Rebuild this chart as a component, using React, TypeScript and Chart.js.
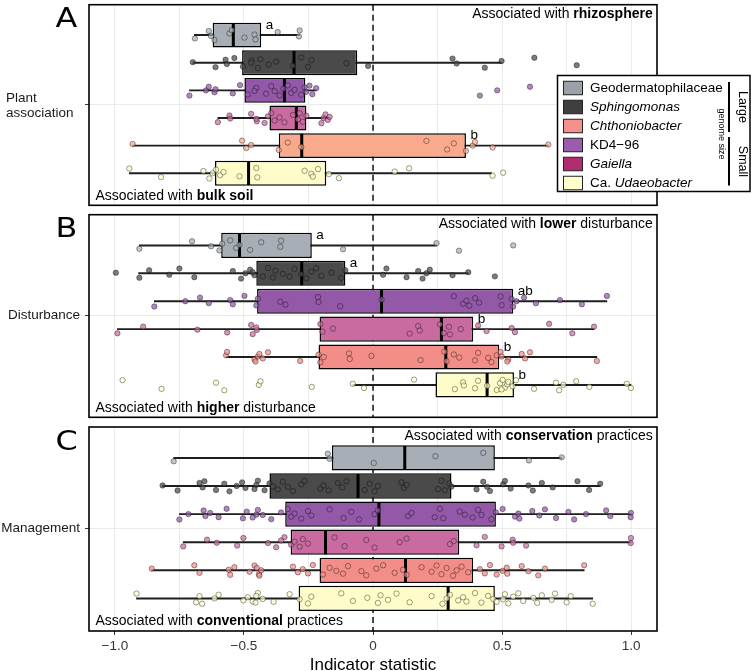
import React, { useEffect, useRef } from 'react';
import { Chart, registerables } from 'chart.js';

Chart.register(...registerables);

const FAMILY = "'Liberation Sans', Arial, Helvetica, sans-serif";
const LETTER_FAMILY = "'DejaVu Sans', 'Liberation Sans', sans-serif";

// ---------- data ----------
// rows, top to bottom
const ROWS = ['Geodermatophilaceae', 'Sphingomonas', 'KD4−96', 'Gaiella', 'Chthoniobacter', 'Ca. Udaeobacter'];

const X_TICKS = [-1, -0.75, -0.5, -0.25, 0, 0.25, 0.5, 0.75, 1];
const X_TICK_LABELS = ['−1.0', '', '−0.5', '', '0', '', '0.5', '', '1.0'];
const X_TITLE = 'Indicator statistic';

// [lower whisker, q1, median, q3, upper whisker]
const STATS_A = [
  [-0.692, -0.621, -0.541, -0.433, -0.284],
  [-0.698, -0.507, -0.306, -0.061, 0.498],
  [-0.711, -0.498, -0.343, -0.262, -0.22],
  [-0.601, -0.401, -0.297, -0.258, -0.168],
  [-0.931, -0.365, -0.276, 0.36, 0.679],
  [-0.944, -0.612, -0.482, -0.181, 0.459],
];
const STATS_B = [
  [-0.905, -0.588, -0.517, -0.237, 0.246],
  [-0.908, -0.452, -0.276, -0.107, 0.369],
  [-0.847, -0.449, 0.033, 0.543, 0.906],
  [-0.99, -0.207, 0.265, 0.388, 0.856],
  [-0.569, -0.211, 0.282, 0.489, 0.867],
  [-0.078, 0.242, 0.442, 0.546, 0.999],
];
const STATS_C = [
  [-0.772, -0.159, 0.123, 0.472, 0.731],
  [-0.815, -0.401, -0.058, 0.304, 0.88],
  [-0.75, -0.34, 0.023, 0.476, 0.999],
  [-0.735, -0.319, -0.184, 0.334, 0.999],
  [-0.857, -0.207, 0.126, 0.388, 0.818],
  [-0.916, -0.288, 0.291, 0.472, 0.851],
];

const POINTS_A = [
  [-0.69, -0.636, -0.627, -0.614, -0.556, -0.547, -0.498, -0.459, -0.455, -0.369, -0.287, -0.284],
  [-0.698, -0.61, -0.571, -0.566, -0.537, -0.504, -0.47, -0.446, -0.472, -0.436, -0.404, -0.375, -0.31, -0.278, -0.252, -0.239, -0.103, -0.019, 0.308, 0.324, 0.433, 0.498, 0.625, 0.789],
  [-0.711, -0.647, -0.636, -0.614, -0.61, -0.543, -0.515, -0.485, -0.452, -0.459, -0.414, -0.394, -0.381, -0.362, -0.347, -0.33, -0.317, -0.304, -0.278, -0.265, -0.259, -0.246, -0.235, -0.22, 0.414, 0.481, 0.608],
  [-0.601, -0.556, -0.553, -0.45, -0.472, -0.452, -0.42, -0.407, -0.394, -0.381, -0.362, -0.343, -0.31, -0.291, -0.284, -0.272, -0.258, -0.2, -0.191, -0.184, -0.175, -0.168],
  [-0.931, -0.507, -0.491, -0.472, -0.365, -0.33, -0.278, 0.207, 0.287, 0.313, 0.36, 0.386, 0.395, 0.463, 0.679],
  [-0.944, -0.821, -0.657, -0.634, -0.621, -0.608, -0.592, -0.579, -0.517, -0.452, -0.448, -0.265, -0.239, -0.233, -0.213, -0.171, -0.132, 0.084, 0.14, 0.463, 0.504],
];
const POINTS_B = [
  [-0.905, -0.701, -0.627, -0.595, -0.584, -0.553, -0.53, -0.517, -0.476, -0.433, -0.359, -0.356, -0.116, 0.246, 0.333, 0.543],
  [-0.996, -0.905, -0.867, -0.789, -0.75, -0.692, -0.543, -0.511, -0.494, -0.476, -0.459, -0.466, -0.427, -0.407, -0.388, -0.378, -0.349, -0.323, -0.304, -0.278, -0.258, -0.239, -0.22, -0.2, -0.161, -0.123, -0.107, 0.039, 0.052, 0.13, 0.175, 0.192, 0.207, 0.22, 0.308, 0.369, 0.472],
  [-0.847, -0.727, -0.67, -0.636, -0.553, -0.543, -0.498, -0.452, -0.446, -0.359, -0.339, -0.213, -0.211, -0.127, 0.033, 0.313, 0.349, 0.362, 0.373, 0.395, 0.411, 0.494, 0.498, 0.537, 0.543, 0.556, 0.585, 0.631, 0.724, 0.809, 0.906],
  [-0.99, -0.89, -0.68, -0.565, -0.472, -0.45, -0.466, -0.452, -0.204, -0.196, -0.155, 0.142, 0.175, 0.181, 0.259, 0.274, 0.294, 0.298, 0.34, 0.407, 0.44, 0.537, 0.55, 0.682, 0.772, 0.856],
  [-0.569, -0.565, -0.459, -0.446, -0.455, -0.44, -0.427, -0.407, -0.282, -0.211, -0.204, -0.191, -0.093, -0.09, -0.006, 0.184, 0.276, 0.285, 0.313, 0.334, 0.395, 0.407, 0.446, 0.459, 0.479, 0.494, 0.524, 0.498, 0.52, 0.576, 0.589, 0.608, 0.867],
  [-0.97, -0.819, -0.608, -0.576, -0.442, -0.436, -0.237, -0.078, -0.035, 0.159, 0.317, 0.349, 0.352, 0.395, 0.407, 0.442, 0.479, 0.492, 0.502, 0.511, 0.52, 0.498, 0.524, 0.541, 0.554, 0.624, 0.709, 0.721, 0.737, 0.787, 0.838, 0.983, 0.999],
];
const POINTS_C = [
  [-0.772, -0.175, -0.168, 0.003, 0.242, 0.427, 0.604, 0.731],
  [-0.815, -0.757, -0.672, -0.66, -0.653, -0.608, -0.576, -0.556, -0.528, -0.507, -0.494, -0.452, -0.459, -0.446, -0.42, -0.401, -0.388, -0.369, -0.349, -0.33, -0.31, -0.278, -0.265, -0.204, -0.191, -0.172, -0.136, -0.119, -0.103, -0.032, -0.013, 0.006, 0.019, 0.11, 0.119, 0.13, 0.252, 0.265, 0.278, 0.295, 0.304, 0.401, 0.427, 0.442, 0.453, 0.504, 0.511, 0.533, 0.602, 0.619, 0.654, 0.696, 0.792, 0.837, 0.88],
  [-0.75, -0.715, -0.656, -0.649, -0.631, -0.598, -0.567, -0.504, -0.489, -0.452, -0.466, -0.446, -0.427, -0.394, -0.356, -0.33, -0.317, -0.304, -0.278, -0.252, -0.239, -0.168, -0.114, -0.084, -0.054, 0.006, 0.019, 0.136, 0.149, 0.239, 0.259, 0.272, 0.336, 0.356, 0.386, 0.407, 0.42, 0.459, 0.476, 0.502, 0.55, 0.563, 0.567, 0.617, 0.644, 0.666, 0.709, 0.757, 0.779, 0.825, 0.903, 0.919, 0.999, 0.998],
  [-0.735, -0.643, -0.605, -0.526, -0.502, -0.407, -0.375, -0.356, -0.343, -0.317, -0.304, -0.284, -0.272, -0.252, -0.149, -0.11, -0.026, 0.006, 0.103, 0.13, 0.298, 0.313, 0.401, 0.433, 0.498, 0.541, 0.543, 0.593, 0.999, 0.998],
  [-0.857, -0.692, -0.672, -0.559, -0.553, -0.537, -0.478, -0.459, -0.442, -0.45, -0.44, -0.433, -0.31, -0.291, -0.272, -0.252, -0.233, -0.194, -0.168, -0.142, -0.116, -0.097, -0.045, -0.026, 0.013, 0.039, 0.084, 0.116, 0.13, 0.188, 0.227, 0.246, 0.265, 0.285, 0.31, 0.324, 0.343, 0.369, 0.414, 0.433, 0.453, 0.479, 0.518, 0.502, 0.52, 0.576, 0.602, 0.64, 0.666, 0.818],
  [-0.916, -0.685, -0.672, -0.662, -0.614, -0.598, -0.502, -0.485, -0.466, -0.446, -0.455, -0.452, -0.427, -0.385, -0.323, -0.284, -0.252, -0.239, -0.123, -0.078, -0.022, 0.019, 0.029, 0.058, 0.091, 0.142, 0.227, 0.269, 0.285, 0.298, 0.33, 0.349, 0.362, 0.395, 0.42, 0.446, 0.466, 0.479, 0.511, 0.504, 0.524, 0.543, 0.563, 0.582, 0.621, 0.636, 0.654, 0.692, 0.705, 0.75, 0.766, 0.851],
];

// vertical jitter offsets (row units) for the dots
const JITTER = [0.12, -0.15, 0.03, 0.18, -0.06, -0.18, 0.09, -0.02, 0.16, -0.11, 0.05, -0.17, 0.14, -0.08, 0.19, 0.0, -0.13, 0.07, -0.04, 0.11, -0.19, 0.15, -0.09, 0.02];

const SIG_A = ['a', '', '', '', 'b', ''];
const SIG_B = ['a', 'a', 'ab', 'b', 'b', 'b'];
const SIG_C = ['', '', '', '', '', ''];

const Y_LABEL_A = ['Plant', 'association'];
const Y_LABEL_B = 'Disturbance';
const Y_LABEL_C = 'Management';

type Seg = { t: string; b?: boolean; i?: boolean };
const NOTE_A_TOP: Seg[] = [{ t: 'Associated with ' }, { t: 'rhizosphere', b: true }];
const NOTE_A_BOT: Seg[] = [{ t: 'Associated with ' }, { t: 'bulk soil', b: true }];
const NOTE_B_TOP: Seg[] = [{ t: 'Associated with ' }, { t: 'lower', b: true }, { t: ' disturbance' }];
const NOTE_B_BOT: Seg[] = [{ t: 'Associated with ' }, { t: 'higher', b: true }, { t: ' disturbance' }];
const NOTE_C_TOP: Seg[] = [{ t: 'Associated with ' }, { t: 'conservation', b: true }, { t: ' practices' }];
const NOTE_C_BOT: Seg[] = [{ t: 'Associated with ' }, { t: 'conventional', b: true }, { t: ' practices' }];

const LEGEND_LABELS: Seg[][] = [
  [{ t: 'Geodermatophilaceae' }],
  [{ t: 'Sphingomonas', i: true }],
  [{ t: 'Chthoniobacter', i: true }],
  [{ t: 'KD4−96' }],
  [{ t: 'Gaiella', i: true }],
  [{ t: 'Ca. ' }, { t: 'Udaeobacter', i: true }],
];
const LEGEND_GROUPS = ['Large', 'Small'];
const LEGEND_GROUP_TITLE = 'genome size';

// ---------- styles ----------
const LEGEND_COLORS = ['#9AA1A9', '#3F3F41', '#F4918A', '#9B5BAE', '#B12D6F', '#FFFDCC'];
const BOX_COLORS_A = ['#A8AEB5', '#4A4A4B', '#9359A8', '#C96BA0', '#F9A98C', '#FEFDC9'];
const BOX_COLORS_BC = ['#A8AEB5', '#4A4A4B', '#9359A8', '#C96BA0', '#F38D88', '#FEFDC9'];

const Y_MIN = -1.1;
const Y_MAX = 6.16;

function rgba(hex: string, a: number) {
  const h = hex.replace('#', '');
  const r = parseInt(h.slice(0, 2), 16);
  const g = parseInt(h.slice(2, 4), 16);
  const b = parseInt(h.slice(4, 6), 16);
  return `rgba(${r},${g},${b},${a})`;
}

function drawRich(ctx: CanvasRenderingContext2D, segs: Seg[], x: number, y: number, align: 'left' | 'right', size: number) {
  const fontOf = (s: Seg) => `${s.i ? 'italic ' : ''}${s.b ? 'bold ' : ''}${size}px ${FAMILY}`;
  let total = 0;
  const ws = segs.map((s) => {
    ctx.font = fontOf(s);
    const w = ctx.measureText(s.t).width;
    total += w;
    return w;
  });
  let cx = align === 'right' ? x - total : x;
  ctx.textAlign = 'left';
  ctx.textBaseline = 'middle';
  ctx.fillStyle = '#000';
  segs.forEach((s, k) => {
    ctx.font = fontOf(s);
    ctx.fillText(s.t, cx, y);
    cx += ws[k];
  });
}

function drawLegend(ctx: CanvasRenderingContext2D) {
  const L = { x: 557.5, y: 75.5, w: 192.5, h: 116 };
  ctx.save();
  ctx.fillStyle = '#fff';
  ctx.fillRect(L.x, L.y, L.w, L.h);
  ctx.strokeStyle = '#000';
  ctx.lineWidth = 1.5;
  ctx.strokeRect(L.x, L.y, L.w, L.h);
  LEGEND_LABELS.forEach((segs, i) => {
    const cy = 88 + i * 19;
    ctx.fillStyle = LEGEND_COLORS[i];
    ctx.fillRect(563.5, cy - 6.75, 19, 13.5);
    ctx.strokeStyle = '#222';
    ctx.lineWidth = 1;
    ctx.strokeRect(563.5, cy - 6.75, 19, 13.5);
    drawRich(ctx, segs, 590, cy, 'left', 13.5);
  });
  ctx.strokeStyle = '#000';
  ctx.lineWidth = 2;
  ctx.beginPath();
  ctx.moveTo(729, 82);
  ctx.lineTo(729, 132);
  ctx.moveTo(729, 137);
  ctx.lineTo(729, 185.5);
  ctx.stroke();
  const rot = (text: string, x: number, y: number, size: number) => {
    ctx.save();
    ctx.translate(x, y);
    ctx.rotate(Math.PI / 2);
    ctx.font = `${size}px ${FAMILY}`;
    ctx.fillStyle = '#000';
    ctx.textAlign = 'center';
    ctx.textBaseline = 'middle';
    ctx.fillText(text, 0, 0);
    ctx.restore();
  };
  rot(LEGEND_GROUPS[0], 742.5, 107, 12.5);
  rot(LEGEND_GROUPS[1], 742.5, 161.5, 12.5);
  rot(LEGEND_GROUP_TITLE, 721.5, 134, 9);
  ctx.restore();
}

type PanelProps = {
  letter: string;
  yLabel: string | string[];
  stats: number[][];
  points: number[][];
  sig: string[];
  topNote: Seg[];
  bottomNote: Seg[];
  boxColors: string[];
  showX: boolean;
  legend: boolean;
  top: number;
  height: number;
  padTop: number;
  padBottom: number;
  far: boolean;
  labelOffset: number;
};

function Panel(p: PanelProps) {
  const ref = useRef<HTMLCanvasElement>(null);
  useEffect(() => {
    const halfBox = (chart: any) => {
      const y = chart.scales.y;
      return Math.abs(y.getPixelForValue(0.45) - y.getPixelForValue(0)) - 0.6;
    };
    const datasets: any[] = [];
    datasets.push({
      type: 'line',
      data: [{ x: 0, y: Y_MIN }, { x: 0, y: Y_MAX }],
      borderColor: '#000',
      borderWidth: 1.4,
      borderDash: [6, 4],
      pointRadius: 0,
      order: 5,
    });
    datasets.push({
      type: 'bar',
      indexAxis: 'y',
      grouped: false,
      data: p.stats.map((s, i) => ({ x: [s[0], s[4]], y: i })),
      backgroundColor: '#1e1e1e',
      borderWidth: 0,
      barThickness: 1.3,
      order: 4,
    });
    datasets.push({
      type: 'bar',
      indexAxis: 'y',
      grouped: false,
      data: p.stats.map((s, i) => ({ x: [s[1], s[3]], y: i })),
      backgroundColor: p.boxColors,
      borderColor: '#000',
      borderWidth: 1.5,
      borderSkipped: false,
      categoryPercentage: 1,
      barPercentage: 0.9,
      order: 3,
    });
    datasets.push({
      type: 'scatter',
      data: p.stats.map((s, i) => ({ x: s[2], y: i })),
      pointStyle: 'line',
      pointRotation: 90,
      pointRadius: (ctx: any) => halfBox(ctx.chart),
      pointBorderColor: '#000',
      pointBorderWidth: 3,
      order: 2,
    });
    p.points.forEach((row, i) => {
      datasets.push({
        type: 'scatter',
        data: row.map((v, j) => ({ x: v, y: i + JITTER[(j + i * 7) % JITTER.length] })),
        pointRadius: 2.7,
        pointBackgroundColor: rgba(p.boxColors[i], 0.72),
        pointBorderColor: 'rgba(0,0,0,0.55)',
        pointBorderWidth: 0.7,
        order: 1,
      });
    });

    const decor: any = {
      id: 'decor',
      afterDatasetsDraw(chart: any) {
        const { ctx, chartArea: a, scales } = chart;
        ctx.save();
        drawRich(ctx, p.topNote, a.right - 4.3, a.top + 9.5, 'right', 14);
        drawRich(ctx, p.bottomNote, a.left + 6.5, a.bottom - 9.5, 'left', 14);
        ctx.font = `13.5px ${FAMILY}`;
        ctx.fillStyle = '#000';
        ctx.textAlign = 'left';
        ctx.textBaseline = 'middle';
        p.sig.forEach((s, i) => {
          if (!s) return;
          ctx.fillText(s, scales.x.getPixelForValue(p.stats[i][3]) + 4.5, scales.y.getPixelForValue(i - 0.36));
        });
        ctx.restore();
      },
      afterDraw(chart: any) {
        const { ctx, chartArea: a } = chart;
        ctx.save();
        ctx.strokeStyle = '#000';
        ctx.lineWidth = 1.6;
        ctx.strokeRect(a.left, a.top, a.right - a.left, a.bottom - a.top);
        ctx.translate(66.5, a.top + 15.5);
        ctx.scale(1.18, 1);
        ctx.font = `27px ${LETTER_FAMILY}`;
        ctx.fillStyle = '#000';
        ctx.textAlign = 'center';
        ctx.textBaseline = 'middle';
        ctx.fillText(p.letter, 0, 0);
        ctx.restore();
        if (p.legend) drawLegend(ctx);
      },
    };

    const zeroPad = (s: any) => {
      s.paddingTop = 0;
      s.paddingBottom = 0;
      s.paddingLeft = 0;
      s.paddingRight = 0;
    };

    const chart = new Chart(ref.current as HTMLCanvasElement, {
      type: 'scatter',
      data: { datasets },
      options: {
        animation: false,
        responsive: false,
        events: [],
        layout: { padding: { left: p.far ? 6 : 0, right: 94, top: p.padTop, bottom: p.padBottom } },
        plugins: { legend: { display: false }, tooltip: { enabled: false } },
        scales: {
          x: {
            type: 'linear',
            min: -1.1,
            max: 1.1,
            offset: false,
            afterBuildTicks: (s: any) => {
              s.ticks = X_TICKS.map((v) => ({ value: v }));
            },
            afterFit: (s: any) => {
              s.height = p.showX ? 40 : 0;
              zeroPad(s);
            },
            grid: {
              color: '#EBEBEB',
              lineWidth: 1,
              offset: false,
              drawTicks: p.showX,
              tickLength: 4,
              tickColor: (ctx: any) => (X_TICK_LABELS[ctx.index] ? '#333' : 'rgba(0,0,0,0)'),
            },
            border: { display: false },
            ticks: {
              display: p.showX,
              autoSkip: false,
              maxRotation: 0,
              padding: 3.5,
              color: '#333',
              font: { size: 13.5, family: FAMILY },
              callback: (_v: any, i: number) => X_TICK_LABELS[i],
            },
            title: {
              display: p.showX,
              text: X_TITLE,
              color: '#000',
              font: { size: 17, family: FAMILY },
              padding: { top: 0, bottom: -4.6 },
            },
          },
          y: {
            type: 'linear',
            min: Y_MIN,
            max: Y_MAX,
            reverse: true,
            offset: false,
            afterBuildTicks: (s: any) => {
              s.ticks = [{ value: 2.5 }];
            },
            afterFit: (s: any) => {
              s.width = p.far ? 83 : 89;
              zeroPad(s);
            },
            grid: { color: '#EBEBEB', lineWidth: 1, offset: false, tickLength: 4, tickColor: '#333' },
            border: { display: false },
            ticks: {
              autoSkip: false,
              padding: 5,
              color: '#1a1a1a',
              crossAlign: p.far ? 'far' : 'near',
              labelOffset: p.labelOffset,
              font: { size: 13.5, family: FAMILY, lineHeight: 1.1 },
              callback: () => p.yLabel,
            },
          },
        },
      } as any,
      plugins: [decor],
    });
    return () => chart.destroy();
  }, []);
  return (
    <canvas
      ref={ref}
      width={751}
      height={p.height}
      style={{ position: 'absolute', left: 0, top: p.top, width: 751, height: p.height, display: 'block' }}
    />
  );
}

export default function App() {
  return (
    <div style={{ position: 'absolute', left: 0, top: 0, width: 751, height: 671, overflow: 'hidden', background: '#fff' }}>
      <Panel
        letter="A"
        yLabel={Y_LABEL_A}
        stats={STATS_A}
        points={POINTS_A}
        sig={SIG_A}
        topNote={NOTE_A_TOP}
        bottomNote={NOTE_A_BOT}
        boxColors={BOX_COLORS_A}
        showX={false}
        legend={true}
        top={0}
        height={210}
        padTop={1}
        padBottom={4}
        far={true}
        labelOffset={1.5}
      />
      <Panel
        letter="B"
        yLabel={Y_LABEL_B}
        stats={STATS_B}
        points={POINTS_B}
        sig={SIG_B}
        topNote={NOTE_B_TOP}
        bottomNote={NOTE_B_BOT}
        boxColors={BOX_COLORS_BC}
        showX={false}
        legend={false}
        top={210}
        height={212}
        padTop={3}
        padBottom={4}
        far={false}
        labelOffset={0}
      />
      <Panel
        letter="C"
        yLabel={Y_LABEL_C}
        stats={STATS_C}
        points={POINTS_C}
        sig={SIG_C}
        topNote={NOTE_C_TOP}
        bottomNote={NOTE_C_BOT}
        boxColors={BOX_COLORS_BC}
        showX={true}
        legend={false}
        top={422}
        height={249}
        padTop={5}
        padBottom={0}
        far={false}
        labelOffset={0}
      />
    </div>
  );
}
